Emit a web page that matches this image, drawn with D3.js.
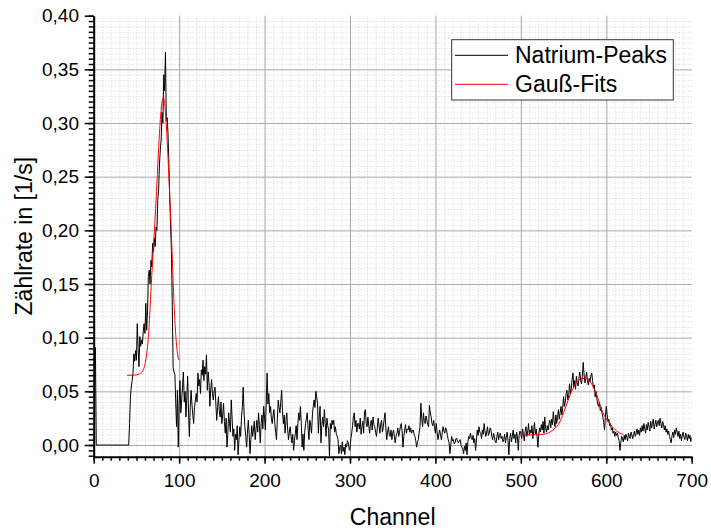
<!DOCTYPE html>
<html><head><meta charset="utf-8">
<script src="https://cdn.jsdelivr.net/npm/d3@7"></script>
<style>
body{margin:0;background:#fff;}
svg{display:block;font-family:"Liberation Sans",Arial,sans-serif;}
</style></head><body>
<svg id="chart" width="711" height="530"></svg>
<script>
// ---------- data ----------
const startChannel = 1;
const natriumCounts = [
0.091,0.091,0,0,0,0,0,0,0,0,
0,0,0,0,0,0,0,0,0,0,
0,0,0,0,0,0,0,0,0,0,
0,0,0,0,0,0,0,0,0,0,
0.000,0.020,0.045,0.054,0.060,0.067,0.085,0.078,0.088,0.079,
0.113,0.090,0.073,0.101,0.092,0.098,0.094,0.106,0.113,0.104,
0.132,0.107,0.125,0.157,0.163,0.150,0.172,0.166,0.188,0.180,
0.193,0.185,0.203,0.200,0.228,0.238,0.262,0.275,0.285,0.310,
0.300,0.345,0.330,0.366,0.302,0.305,0.290,0.262,0.231,0.205,
0.180,0.130,0.072,0.068,0.066,0.040,0.017,0.051,-0.002,0.039,
0.060,0.030,0.042,0.055,0.068,0.040,0.050,0.026,0.045,0.064,
0.030,0.008,0.035,0.051,0.038,0.028,0.020,0.035,0.042,0.048,
0.040,0.067,0.055,0.061,0.048,0.070,0.065,0.079,0.060,0.073,
0.066,0.084,0.051,0.068,0.058,0.036,0.052,0.061,0.048,0.042,
0.050,0.054,0.038,0.023,0.035,0.045,0.032,0.026,0.040,0.020,
0.028,0.039,0.022,0.011,0.025,-0.002,0.010,0.030,0.020,0.012,
0.042,0.025,0.008,0.015,-0.005,0.010,0.005,0.018,-0.009,0.004,
0.017,0.008,0.026,0.035,0.054,0.030,0.017,0.008,-0.002,0.012,
0.023,0.010,-0.008,0.005,0.018,0.008,0.014,0.022,0.005,0.015,
0.023,0.012,0.030,0.018,0.002,0.020,0.028,0.015,0.036,0.025,
0.014,0.040,0.067,0.038,0.048,0.030,0.036,0.025,0.020,0.028,
0.033,0.020,0.012,0.005,0.025,0.042,0.035,0.030,0.040,0.051,
0.032,0.020,0.028,0.011,0.022,0.030,0.015,0.005,0.012,0.017,
0.008,0.002,0.010,-0.005,0.004,0.011,0.018,0.005,0.020,0.030,
0.023,0.036,0.020,-0.002,0.010,-0.005,0.012,0.020,0.025,0.030,
0.015,0.005,0.023,0.018,0.011,0.028,0.036,0.042,0.035,0.050,
0.045,0.039,0.011,0.026,0.036,0.002,0.018,0.026,0.017,0.033,
0.020,0.008,0.025,0.018,0.014,-0.011,0.020,0.015,0.023,0.019,
0.023,0.012,0.017,0.010,0.008,0.005,-0.008,-0.002,0.000,-0.008,
0.003,-0.006,-0.002,-0.009,0.001,-0.002,0.004,0.002,-0.004,-0.005,
0.006,0.011,0.018,0.026,0.030,0.017,0.023,0.012,0.020,0.020,
0.015,0.025,0.010,0.017,0.022,0.011,0.031,0.033,0.020,0.017,
0.026,0.018,0.011,0.020,0.023,0.014,0.026,0.019,0.017,0.012,
0.008,0.016,0.025,0.018,0.011,0.020,0.023,0.012,0.017,0.024,
0.030,0.016,0.005,0.012,0.017,0.010,0.008,0.014,0.005,0.011,
0.014,0.008,0.002,0.009,0.011,0.016,0.008,0.012,0.017,0.020,
0.013,-0.002,0.008,0.014,0.019,0.011,0.015,0.014,0.018,0.012,
0.016,0.011,0.013,0.014,0.010,0.008,0.004,-0.002,0.003,0.005,
0.012,0.017,0.039,0.025,0.017,0.030,0.022,0.020,0.027,0.023,
0.019,0.017,0.037,0.030,0.026,0.020,0.018,0.023,0.016,0.011,
0.020,0.012,0.005,0.010,0.014,0.009,0.005,0.012,0.017,0.013,
0.011,0.016,0.014,0.009,0.005,0.002,-0.008,0.000,0.008,0.004,
0.005,0.001,0.002,0.006,0.006,0.003,0.002,0.004,0.005,0.000,
-0.002,-0.004,-0.008,-0.001,-0.005,0.002,-0.009,0.003,0.008,0.006,
0.011,0.007,0.005,0.009,0.002,0.006,-0.005,0.004,0.014,0.009,
0.017,0.012,0.011,0.006,0.014,0.010,0.020,0.013,0.008,0.012,
0.017,0.009,0.011,0.016,0.014,0.008,0.005,0.011,0.008,0.003,
0.002,0.008,0.012,0.005,0.009,0.011,0.006,0.008,0.003,0.005,
0.010,0.002,0.007,0.012,0.004,-0.009,0.006,0.011,0.003,0.008,
0.014,0.006,0.010,0.002,0.012,0.008,-0.005,0.009,0.013,0.011,
0.006,0.015,0.010,0.004,0.013,0.017,0.008,0.012,0.020,0.009,
0.014,0.011,0.018,0.006,0.013,0.021,0.010,0.015,0.008,-0.002,
0.010,0.016,0.012,0.019,0.014,0.022,0.011,0.026,0.015,0.012,
0.018,0.014,0.020,0.023,0.016,0.024,0.019,0.031,0.022,0.017,
0.028,0.020,0.026,0.033,0.024,0.030,0.036,0.028,0.034,0.045,
0.036,0.040,0.048,0.051,0.042,0.046,0.057,0.048,0.052,0.061,
0.067,0.054,0.060,0.052,0.064,0.058,0.055,0.062,0.068,0.060,
0.057,0.064,0.077,0.066,0.058,0.063,0.068,0.060,0.056,0.062,
0.059,0.065,0.067,0.060,0.053,0.056,0.045,0.050,0.043,0.038,
0.036,0.040,0.032,0.035,0.030,0.026,0.021,0.014,0.027,0.036,
0.028,0.022,0.024,0.018,0.020,0.014,0.016,0.011,0.013,0.008,
0.012,0.009,0.011,0.007,0.004,-0.005,0.002,0.008,0.006,0.003,
0.009,0.005,0.010,0.007,0.004,0.011,0.008,0.006,0.012,0.009,
0.006,0.010,0.013,0.008,0.011,0.015,0.010,0.014,0.009,0.016,
0.012,0.018,0.013,0.020,0.015,0.011,0.019,0.014,0.021,0.017,
0.013,0.022,0.016,0.020,0.024,0.015,0.019,0.023,0.017,0.021,
0.023,0.018,0.025,0.020,0.016,0.022,0.019,0.014,0.018,0.012,
0.015,0.010,0.013,0.008,0.005,0.002,0.009,0.012,0.007,0.014,
0.010,0.016,0.012,0.008,0.013,0.006,0.010,0.004,0.009,0.012,
0.007,0.005,0.011,0.008,0.004,0.010,0.006,0.009,0.003,0.007
];
const fit1Channels = [39,44,48,52,55,58,60,62,64,66,68,70,72,74,76,78,80,81.5,83,85,87,89,91,93,95,97,99,100];
const fit1Values   = [0.065,0.065,0.0652,0.0658,0.067,0.070,0.075,0.085,0.100,0.128,0.158,0.185,0.213,0.244,0.276,0.303,0.320,0.324,0.318,0.298,0.268,0.232,0.195,0.152,0.116,0.093,0.081,0.079];
const fit2Channels = [500,510,520,528,535,540,545,550,555,560,565,570,575,580,585,590,595,600,605,610,615,620];
const fit2Values   = [0.0093,0.0094,0.0097,0.0102,0.0125,0.0155,0.0205,0.030,0.041,0.051,0.058,0.0615,0.0622,0.060,0.054,0.044,0.032,0.0245,0.019,0.0145,0.0115,0.010];
const xTickValues = [0,100,200,300,400,500,600,700];
const xTickLabels = ["0","100","200","300","400","500","600","700"];
const yTickValues = [0,0.05,0.10,0.15,0.20,0.25,0.30,0.35,0.40];
const yTickLabels = ["0,00","0,05","0,10","0,15","0,20","0,25","0,30","0,35","0,40"];
const legendLabels = ["Natrium-Peaks","Gauß-Fits"];
const seriesColors = ["#000000","#ff0000"];
const xTitle = "Channel";
const yTitle = "Zählrate in [1/s]";

// ---------- layout ----------
const L = 93.7, R = 691.7, T = 15.7, B = 456.7;
const svg = d3.select("#chart");
svg.append("rect").attr("width",711).attr("height",530).attr("fill","#fff");
const x = d3.scaleLinear().domain([0,700]).range([L,R]);
const y = d3.scaleLinear().domain([-0.0109,0.40]).range([B,T]);

const xMinor = d3.range(0,71).map(i=>i*10);
const yMinor = d3.range(-2,81).map(i=>+(i*0.005).toFixed(3));

// minor grid (dotted)
svg.append("g").attr("transform",`translate(0,${B})`)
  .call(d3.axisBottom(x).tickValues(xMinor.filter(v=>v%100!==0)).tickSize(-(B-T)).tickFormat(""))
  .call(g=>{g.select(".domain").remove();g.selectAll("line").attr("stroke","#d4d4d4").attr("stroke-dasharray","1,2");});
svg.append("g").attr("transform",`translate(${L},0)`)
  .call(d3.axisLeft(y).tickValues(yMinor.filter(v=>Math.round(v*1000)%50!==0 && v>=0)).tickSize(-(R-L)).tickFormat(""))
  .call(g=>{g.select(".domain").remove();g.selectAll("line").attr("stroke","#d4d4d4").attr("stroke-dasharray","1,2");});
// major grid
svg.append("g").attr("transform",`translate(0,${B})`)
  .call(d3.axisBottom(x).tickValues(xTickValues.slice(1,-1)).tickSize(-(B-T)).tickFormat(""))
  .call(g=>{g.select(".domain").remove();g.selectAll("line").attr("stroke","#a8a8a8");});
svg.append("g").attr("transform",`translate(${L},0)`)
  .call(d3.axisLeft(y).tickValues(yTickValues.slice(0,-1)).tickSize(-(R-L)).tickFormat(""))
  .call(g=>{g.select(".domain").remove();g.selectAll("line").attr("stroke","#a8a8a8");});

// clip
svg.append("clipPath").attr("id","plotclip").append("rect")
  .attr("x",L).attr("y",T-2).attr("width",R-L).attr("height",B-T+1);

const plot = svg.append("g").attr("clip-path","url(#plotclip)");
const dataLine = d3.line().x((d,i)=>x(startChannel+i)).y(d=>y(d));
plot.append("path").datum(natriumCounts).attr("d",dataLine)
  .attr("fill","none").attr("stroke",seriesColors[0]).attr("stroke-width",1).attr("stroke-linejoin","round");

const fitLine = d3.line().x(d=>x(d[0])).y(d=>y(d[1])).curve(d3.curveMonotoneX);
[[fit1Channels,fit1Values],[fit2Channels,fit2Values]].forEach(([c,v])=>{
  plot.append("path").datum(c.map((ch,i)=>[ch,v[i]])).attr("d",fitLine)
    .attr("fill","none").attr("stroke",seriesColors[1]).attr("stroke-width",1);
});

// axes
const xAxisMinor = svg.append("g").attr("transform",`translate(0,${B})`)
  .call(d3.axisBottom(x).tickValues(xMinor).tickSize(4).tickFormat("").tickSizeOuter(0));
xAxisMinor.select(".domain").remove();
xAxisMinor.selectAll("line").attr("stroke","#000").attr("stroke-width",1.5);
const xAxis = svg.append("g").attr("transform",`translate(0,${B})`)
  .call(d3.axisBottom(x).tickValues(xTickValues).tickSize(7).tickSizeOuter(0)
    .tickFormat((d,i)=>xTickLabels[i]));
xAxis.select(".domain").attr("stroke","#000").attr("stroke-width",2);
xAxis.selectAll("line").attr("stroke","#000").attr("stroke-width",1.5);
xAxis.selectAll("text").attr("dy",null).attr("y",30.3).attr("font-size",19)
  .attr("font-family","Liberation Sans, Arial, sans-serif").attr("fill","#000");

const yAxisMinor = svg.append("g").attr("transform",`translate(${L},0)`)
  .call(d3.axisLeft(y).tickValues(yMinor).tickSize(5).tickFormat("").tickSizeOuter(0));
yAxisMinor.select(".domain").remove();
yAxisMinor.selectAll("line").attr("stroke","#000").attr("stroke-width",1.5);
const yAxis = svg.append("g").attr("transform",`translate(${L},0)`)
  .call(d3.axisLeft(y).tickValues(yTickValues).tickSize(9).tickPadding(5.7).tickSizeOuter(0)
    .tickFormat((d,i)=>yTickLabels[i]));
yAxis.select(".domain").attr("stroke","#000").attr("stroke-width",2);
yAxis.selectAll("line").attr("stroke","#000").attr("stroke-width",1.5);
yAxis.selectAll("text").attr("font-size",19)
  .attr("font-family","Liberation Sans, Arial, sans-serif").attr("fill","#000");

// titles
svg.append("text").attr("x",(L+R)/2).attr("y",525).attr("text-anchor","middle")
  .attr("font-size",23).attr("fill","#000").text(xTitle);
svg.append("text").attr("transform",`translate(32.3,${(T+B)/2}) rotate(-90)`)
  .attr("text-anchor","middle").attr("font-size",23).attr("fill","#000").text(yTitle);

// legend
const lg = svg.append("g");
lg.append("rect").attr("x",451.7).attr("y",39.7).attr("width",221.6).attr("height",60.3)
  .attr("fill","#fff").attr("stroke","#333").attr("stroke-width",1);
legendLabels.forEach((lab,i)=>{
  const cy = 55.3 + i*29;
  lg.append("line").attr("x1",455).attr("x2",508).attr("y1",cy).attr("y2",cy)
    .attr("stroke",seriesColors[i]).attr("stroke-width",1);
  lg.append("text").attr("x",515).attr("y",cy+8).attr("font-size",23).attr("fill","#000").text(lab);
});
</script>
</body></html>
